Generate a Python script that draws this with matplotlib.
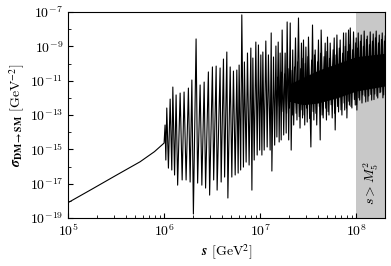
import numpy as np
import matplotlib
matplotlib.use('Agg')
import matplotlib.pyplot as plt

plt.rcParams['mathtext.fontset'] = 'cm'
plt.rcParams['font.family'] = 'serif'
plt.rcParams['font.serif'] = ['cmr10']
plt.rcParams['axes.formatter.use_mathtext'] = True
plt.rcParams['font.size'] = 10

# smooth part below the first resonance (log10 values)
smooth_log_s = [5.0, 5.25, 5.5, 5.75, 5.9, 6.0]
smooth_log_sigma = [-18.1, -17.31, -16.51, -15.72, -15.13, -14.63]

# resonance region, alternating peak / dip (log10 values)
res_log_s = [
    6.010, 6.018, 6.028, 6.045, 6.063, 6.080, 6.091, 6.109, 6.125, 6.141,
    6.167, 6.188, 6.208, 6.229, 6.253, 6.271, 6.289, 6.305, 6.333, 6.349,
    6.375, 6.393, 6.417, 6.432, 6.461, 6.474, 6.503, 6.516, 6.542, 6.552,
    6.583, 6.594, 6.618, 6.630, 6.653, 6.664, 6.688, 6.705, 6.722, 6.740,
    6.757, 6.771, 6.781, 6.797, 6.809, 6.826, 6.836, 6.854, 6.868, 6.885,
    6.903, 6.914, 6.924, 6.938, 6.955, 6.969, 6.982, 6.995, 7.007, 7.018,
    7.028, 7.042, 7.059, 7.073, 7.086, 7.104, 7.115, 7.122, 7.139, 7.151,
    7.164, 7.174, 7.188, 7.198, 7.208, 7.219, 7.229, 7.245, 7.260, 7.271,
    7.281, 7.297, 7.313, 7.323, 7.339, 7.349, 7.368, 7.383, 7.399, 7.415,
    7.430, 7.441, 7.451, 7.464, 7.476, 7.490, 7.503, 7.528, 7.545, 7.559,
    7.573, 7.589, 7.607, 7.625, 7.635, 7.656, 7.677, 7.690, 7.701, 7.716,
    7.729, 7.750, 7.771, 7.781, 7.799, 7.816, 7.833, 7.851, 7.868, 7.880,
    7.893, 7.903, 7.920, 7.929, 7.938, 7.955, 7.972, 7.990, 8.000, 8.007,
    8.021, 8.036, 8.052, 8.068, 8.083, 8.099, 8.115, 8.130, 8.146, 8.161,
    8.177, 8.193, 8.208, 8.224, 8.240, 8.255, 8.271, 8.286, 8.302,
]
res_log_sigma = [
    -13.58, -15.62, -12.59, -16.09, -12.07, -16.20, -11.37, -16.49, -11.83, -17.08,
    -11.72, -16.78, -11.66, -16.78, -11.43, -16.90, -10.96, -18.76, -8.57, -16.96,
    -11.25, -17.08, -11.08, -17.25, -10.49, -17.66, -10.20, -16.78, -10.15, -17.37,
    -10.26, -16.90, -9.74, -16.61, -9.33, -17.83, -10.20, -16.61, -10.44, -16.49,
    -10.38, -16.38, -10.09, -16.20, -7.17, -16.03, -9.91, -15.74, -9.39, -15.91,
    -9.10, -17.37, -9.68, -15.62, -8.75, -15.33, -8.92, -15.04, -9.50, -15.33,
    -9.33, -15.04, -8.69, -14.86, -9.50, -15.04, -8.22, -16.26, -9.62, -14.75,
    -8.98, -14.28, -8.75, -14.57, -9.39, -14.45, -8.05, -14.16, -9.39, -14.05,
    -7.58, -14.45, -7.64, -15.04, -9.21, -13.58, -8.51, -13.29, -7.35, -13.76,
    -8.81, -13.17, -8.63, -13.58, -9.04, -13.41, -8.46, -14.86, -7.76, -13.29,
    -9.21, -13.58, -8.63, -14.45, -8.05, -13.17, -8.81, -13.29, -8.46, -13.00,
    -8.81, -13.17, -8.51, -13.87, -8.34, -12.82, -8.63, -13.00, -8.22, -12.71,
    -8.22, -13.17, -8.05, -12.42, -7.93, -12.59, -8.16, -12.42, -8.51, -12.71,
    -8.22, -12.13, -8.34, -11.83, -8.11, -12.24, -8.40, -11.89, -8.16, -12.13,
    -8.28, -11.78, -8.11, -12.01, -8.34, -11.66, -8.22, -11.83, -8.40,
]

# overlapping smaller resonances filling the band at high s (log10 values)
dense_log_s = [
    7.180, 7.200, 7.220, 7.240, 7.255, 7.275, 7.290, 7.305, 7.320, 7.335,
    7.358, 7.375, 7.391, 7.407, 7.422, 7.436, 7.446, 7.458, 7.470, 7.483,
    7.497, 7.515, 7.536, 7.552, 7.566, 7.581, 7.598, 7.616, 7.630, 7.645,
    7.666, 7.683, 7.695, 7.708, 7.722, 7.739, 7.760, 7.776, 7.790, 7.807,
    7.824, 7.842, 7.859, 7.874, 7.886, 7.898, 7.911, 7.924, 7.933, 7.946,
    7.963, 7.981, 7.995, 8.004, 8.014, 8.028, 8.044, 8.060, 8.075, 8.091,
    8.107, 8.122, 8.138, 8.153, 8.169, 8.185, 8.200, 8.216, 8.232, 8.247,
    8.263, 8.278, 8.294,
]
dense_log_sigma = [
    -10.8, -12.5, -10.5, -12.8, -10.6, -12.9, -10.3, -12.6, -10.4, -13.0,
    -10.2, -12.9, -9.9, -13.1, -10.3, -12.7, -9.7, -13.0, -10.0, -12.6,
    -9.6, -13.2, -9.8, -12.8, -9.5, -12.9, -9.9, -12.5, -9.4, -13.0,
    -9.6, -12.6, -9.3, -12.8, -9.7, -12.4, -9.2, -12.9, -9.5, -12.5,
    -9.1, -12.7, -9.4, -12.3, -9.0, -12.6, -9.3, -12.2, -8.9, -12.5,
    -9.2, -12.1, -8.8, -12.4, -9.1, -12.0, -8.7, -12.3, -9.0, -11.9,
    -8.6, -12.2, -8.9, -11.8, -8.7, -12.1, -8.5, -11.9, -8.8, -11.7,
    -8.6, -12.0, -8.7,
]

# solid core of the band
core_log_s = [7.3, 7.45, 7.6, 7.8, 8.0, 8.31]
core_upper = [-11.2, -10.8, -10.4, -10.0, -9.6, -9.4]
core_lower = [-12.2, -12.4, -12.3, -12.0, -11.6, -11.3]

M5_sq = 1e8
s_max = 2e8

s = 10.0 ** np.array(smooth_log_s + res_log_s)
sigma = 10.0 ** np.array(smooth_log_sigma + res_log_sigma)

fig = plt.figure(figsize=(3.91, 2.66), dpi=100)
ax = fig.add_axes([0.174, 0.180, 0.811, 0.775])

ax.axvspan(M5_sq, s_max, color='#c8c8c8', lw=0, zorder=0)
ax.fill_between(10.0 ** np.array(core_log_s), 10.0 ** np.array(core_lower),
                10.0 ** np.array(core_upper), color='black', lw=0, zorder=1)
ax.plot(10.0 ** np.array(dense_log_s), 10.0 ** np.array(dense_log_sigma),
        color='black', lw=0.8, zorder=2)
ax.plot(s, sigma, color='black', lw=0.8, zorder=2)

ax.set_xscale('log')
ax.set_yscale('log')
ax.set_xlim(1e5, s_max)
ax.set_ylim(1e-19, 1e-7)
ax.set_yticks([10.0 ** e for e in range(-19, -6, 2)])
ax.set_yticks([10.0 ** e for e in range(-18, -7, 2)], minor=True)
ax.yaxis.set_minor_formatter(matplotlib.ticker.NullFormatter())
ax.tick_params(which='both', direction='in')

ax.text(0.958, 0.17, r'$s > M_5^2$', transform=ax.transAxes, rotation=90,
        ha='center', va='center', fontsize=10)

ax.set_xlabel(r'$\mathbfit{s}$ [GeV$^2$]', labelpad=2, math_fontfamily='stix')
ax.set_ylabel(r'$\mathbfit{\sigma}_{\mathbf{DM\to SM}}$ [GeV$^{-2}$]',
              labelpad=2, math_fontfamily='stix')

fig.savefig('out.png', dpi=100)
